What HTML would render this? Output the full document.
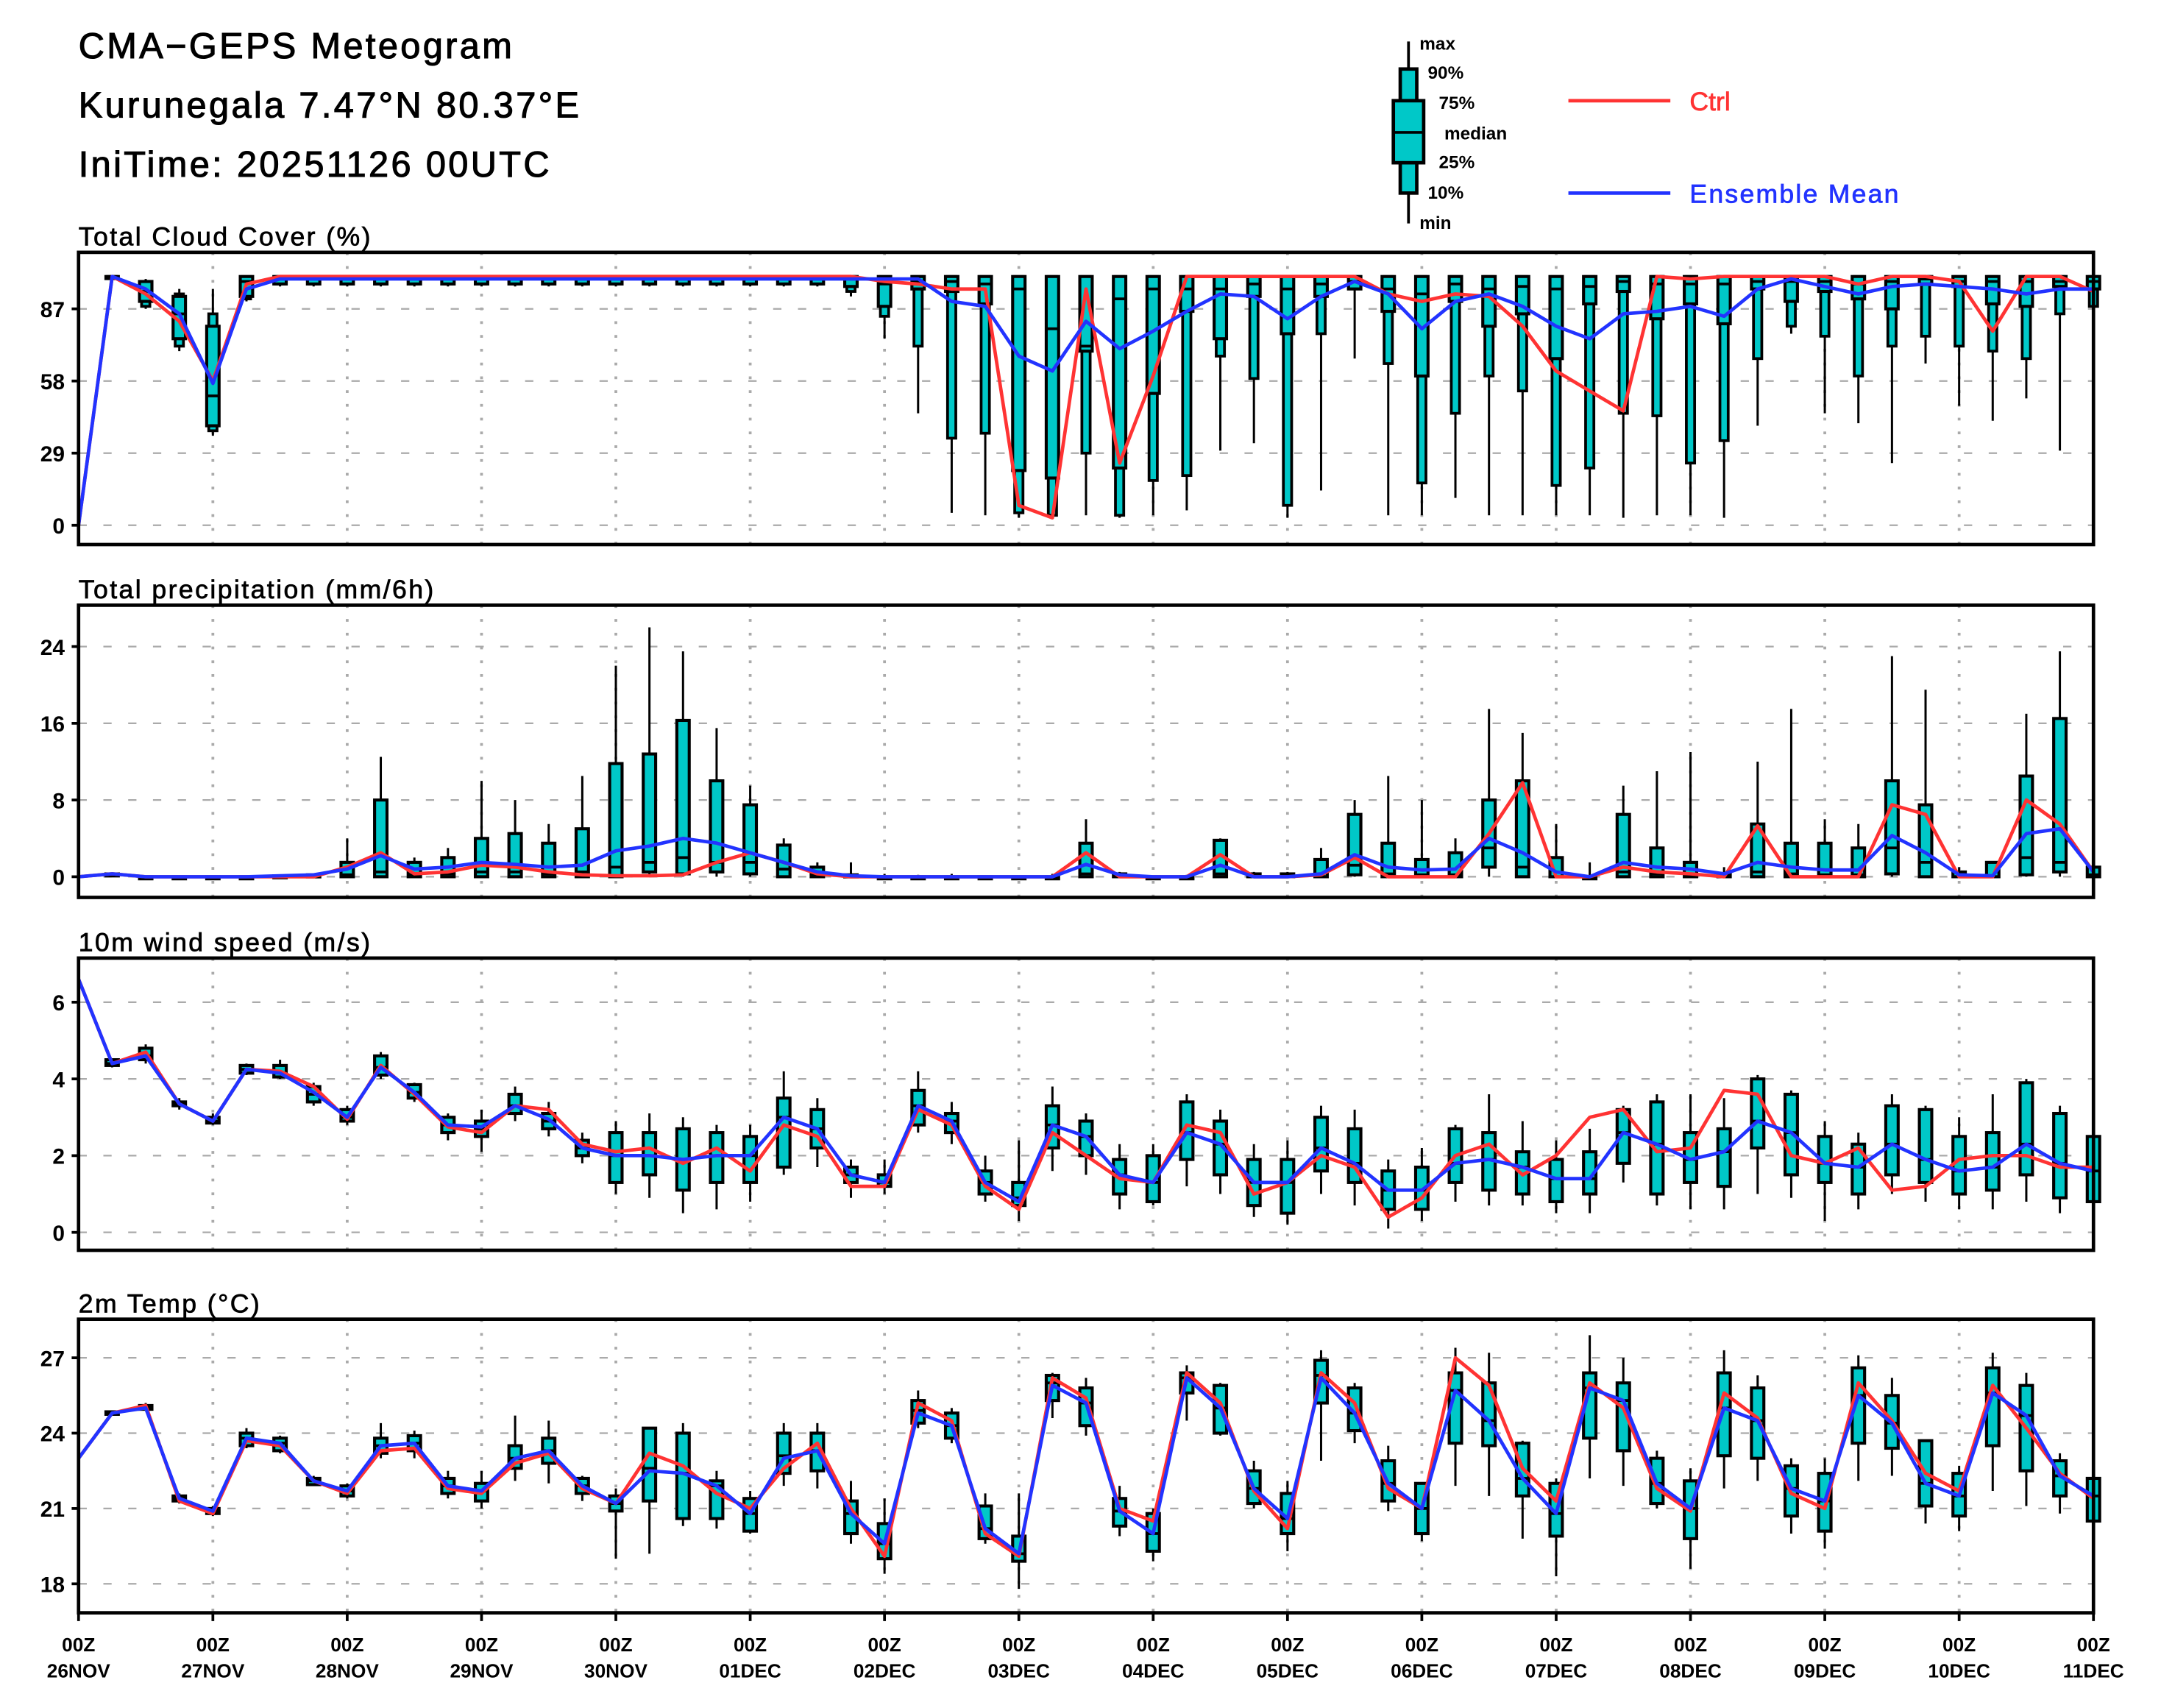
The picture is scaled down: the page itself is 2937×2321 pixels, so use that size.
<!DOCTYPE html>
<html><head><meta charset="utf-8"><style>
html,body{margin:0;padding:0;background:#fff;}
svg{display:block;}
text{font-family:"Liberation Sans",sans-serif;fill:#000;}
</style></head><body>
<svg id="chart" xmlns="http://www.w3.org/2000/svg" width="2937" height="2321" viewBox="0 0 1568 1239">
<rect x="0" y="0" width="1568" height="1239" fill="#fff"/>
<g font-size="26" letter-spacing="1.8" stroke="#000" stroke-width="0.6">
<text x="57" y="42">CMA−GEPS Meteogram</text>
<text x="57" y="85">Kurunegala 7.47°N 80.37°E</text>
<text x="57" y="128">IniTime: 20251126 00UTC</text>
</g>
<g>
<line x1="1022" y1="30" x2="1022" y2="162" stroke="#000" stroke-width="2"/>
<rect x="1016" y="50" width="12" height="90" fill="#00c8c8" stroke="#000" stroke-width="2.5"/>
<rect x="1011" y="73" width="22" height="45" fill="#00c8c8" stroke="#000" stroke-width="2.5"/>
<line x1="1011" y1="96" x2="1033" y2="96" stroke="#000" stroke-width="2"/>
<g font-size="13" font-weight="bold">
<text x="1030" y="36">max</text><text x="1036" y="57">90%</text><text x="1044" y="79">75%</text>
<text x="1048" y="101">median</text><text x="1044" y="122">25%</text><text x="1036" y="144">10%</text><text x="1030" y="166">min</text>
</g>
<line x1="1138" y1="73" x2="1212" y2="73" stroke="#ff3333" stroke-width="2.5"/>
<text x="1226" y="80" font-size="19" stroke="#ff3333" stroke-width="0.4" style="fill:#ff3333">Ctrl</text>
<line x1="1138" y1="140" x2="1212" y2="140" stroke="#2233ff" stroke-width="2.5"/>
<text x="1226" y="147" font-size="19" letter-spacing="1.2" stroke="#2233ff" stroke-width="0.4" style="fill:#2233ff">Ensemble Mean</text>
</g>
<g id="plots"></g>
</svg>
<script>
// ---- Cloud cover (%) ----
const cloudMean=[0,100,95,85,57,95,99,99,99,99,99,99,99,99,99,99,99,99,99,99,99,99,99,99,99,99,90,88,68,62,82,71,78,86,93,92,83,92,98,93,79,90,93,88,80,75,85,86,88,84,95,99,96,93,96,97,96,95,93,95,95];
const cloudCtrl=[0,100,93,82,58,97,100,100,100,100,100,100,100,100,100,100,100,100,100,100,100,100,100,100,98,97,95,95,8,3,95,25,60,100,100,100,100,100,100,93,90,93,92,80,62,54,46,100,99,100,100,100,100,97,100,100,98,78,100,100,94];
const cloudMin=[0,100,87,70,36,90,96,96,96,96,96,96,96,96,96,96,96,96,96,96,96,96,96,92,75,45,5,4,3,3,4,3,4,6,30,33,3,14,67,4,4,11,4,4,4,4,3,4,4,3,40,77,45,41,25,65,48,42,51,30,64];
const cloudP10=[0,100,88,72,38,91,97,97,97,97,97,97,97,97,97,97,97,97,97,97,97,97,97,94,84,72,35,37,5,4,29,4,18,20,68,59,8,77,95,65,17,45,60,54,16,23,45,44,25,34,67,80,76,60,72,76,72,70,67,85,88];
const cloudQ1=[0,100,90,75,40,92,97,97,97,97,97,97,97,97,97,97,97,97,97,97,97,97,97,96,88,95,94,89,22,19,70,23,53,86,75,92,77,92,95,86,60,90,80,85,67,89,94,83,89,81,95,90,94,91,87,97,96,89,88,96,95];
const cloudMed=[0,100,94,85,52,98,99,99,99,99,99,99,99,99,99,99,99,99,99,99,99,99,99,99,97,98,98,97,95,79,72,91,95,95,95,97,95,97,98,95,93,97,95,96,95,96,98,97,97,97,98,98,98,97,98,99,98,98,98,98,98];
const cloudQ3=[0,100,98,92,80,100,100,100,100,100,100,100,100,100,100,100,100,100,100,100,100,100,100,100,100,100,100,100,100,100,100,100,100,100,100,100,100,100,100,100,100,100,100,100,100,100,100,100,100,100,100,100,100,100,100,100,100,100,100,100,100];
const cloudP90=[0,100,98,93,85,100,100,100,100,100,100,100,100,100,100,100,100,100,100,100,100,100,100,100,100,100,100,100,100,100,100,100,100,100,100,100,100,100,100,100,100,100,100,100,100,100,100,100,100,100,100,100,100,100,100,100,100,100,100,100,100];
const cloudMax=[0,100,99,95,95,100,100,100,100,100,100,100,100,100,100,100,100,100,100,100,100,100,100,100,100,100,100,100,100,100,100,100,100,100,100,100,100,100,100,100,100,100,100,100,100,100,100,100,100,100,100,100,100,100,100,100,100,100,100,100,100];
const cloudTicks=[0,29,58,87];
// ---- Precipitation (mm/6h) ----
const prMean=[0,0.3,0,0,0,0,0.1,0.2,0.8,2.2,0.8,1.0,1.5,1.3,1.0,1.2,2.7,3.2,4.0,3.5,2.5,1.5,0.5,0.1,0,0,0,0,0,0,1.3,0.2,0,0,1.2,0,0,0.3,2.3,1.0,0.7,0.8,4.0,2.5,0.5,0,1.5,1.0,0.8,0.3,1.5,1.0,0.7,0.7,4.3,2.5,0.2,0.1,4.5,5.0,0.5];
const prCtrl=[0,0.3,0,0,0,0,0,0,1.0,2.5,0.3,0.5,1.2,1.0,0.5,0.2,0.1,0.1,0.2,1.5,2.5,1.5,0.3,0,0,0,0,0,0,0,2.5,0,0,0,2.3,0,0,0.2,2.0,0,0,0,4.5,9.8,0,0,1.0,0.5,0.3,0,5.3,0,0,0,7.5,6.5,0,0,8.0,5.5,0.5];
const prMin=[0,0.3,0,0,0,0,0,0,0,0,0,0,0,0,0,0,0,0,0,0,0,0,0,0,0,0,0,0,0,0,0,0,0,0,0,0,0,0,0,0,0,0,0,0,0,0,0,0,0,0,0,0,0,0,0,0,0,0,0,0,0];
const prQ1=[0,0.3,0,0,0,0,0,0,0,0,0,0,0,0,0,0,0,0.5,0.3,0.5,0.3,0,0,0,0,0,0,0,0,0,0,0,0,0,0,0,0,0,0.2,0,0,0,1.0,0,0,0,0,0,0,0,0,0,0,0,0.3,0,0,0,0.2,0.5,0];
const prMed=[0,0.3,0,0,0,0,0,0,0.2,0.5,0.2,0.3,0.5,0.5,0.3,0.5,1.0,1.5,2.0,1.5,1.5,0.8,0.2,0,0,0,0,0,0,0,0.3,0,0,0,0.3,0,0,0,1.2,0.3,0.2,0.2,3.0,1.0,0,0,0.5,0.3,0.2,0,0.5,0.3,0.2,0.2,3.0,1.5,0,0,2.0,1.5,0.2];
const prQ3=[0,0.3,0,0,0,0,0.1,0.2,1.5,8,1.5,2,4,4.5,3.5,5,11.8,12.8,16.3,10,7.5,3.3,1,0.2,0,0,0,0,0,0,3.5,0.3,0,0,3.8,0.3,0.3,1.8,6.5,3.5,1.8,2.5,8,10,2,0,6.5,3,1.5,0.3,5.5,3.5,3.5,3,10,7.5,0.5,1.5,10.5,16.5,1];
const prMax=[0,0.3,0,0,0,0,0.2,0.3,4,12.5,2,3,10,8,5.5,10.5,22,26,23.5,15.5,9.5,4,1.5,1.5,0.3,0.2,0.3,0,0,0.3,6,0.5,0,0.2,4,0.5,0.5,3,8,10.5,8,4,17.5,15,5.5,1.5,9.5,11,13,1,12,17.5,6,5.5,23,19.5,1,1.5,17,23.5,1.5];
const prTicks=[0,8,16,24];
// ---- 10m wind speed (m/s) ----
const wsMean=[6.6,4.4,4.6,3.35,2.9,4.25,4.15,3.65,3.0,4.3,3.65,2.8,2.75,3.3,2.95,2.2,2.0,2.0,1.9,2.0,2.0,3.0,2.7,1.5,1.3,3.3,2.9,1.3,0.8,2.8,2.5,1.5,1.3,2.6,2.3,1.3,1.3,2.2,1.8,1.1,1.1,1.8,1.9,1.7,1.4,1.4,2.6,2.3,1.9,2.1,2.9,2.6,1.8,1.7,2.3,1.9,1.6,1.7,2.3,1.8,1.6];
const wsCtrl=[6.6,4.4,4.7,3.35,2.9,4.25,4.2,3.8,2.95,4.35,3.6,2.75,2.6,3.3,3.2,2.3,2.1,2.2,1.8,2.2,1.6,2.8,2.5,1.2,1.2,3.2,2.8,1.2,0.6,2.6,2.0,1.4,1.3,2.8,2.6,1.0,1.3,2.0,1.7,0.4,0.9,2.0,2.3,1.5,2.0,3.0,3.2,2.1,2.2,3.7,3.6,2.0,1.8,2.2,1.1,1.2,1.9,2.0,2.0,1.7,1.7];
const wsMin=[6.6,4.3,4.4,3.2,2.8,4.1,4.0,3.3,2.8,4.0,3.4,2.4,2.1,2.9,2.5,1.8,1.0,0.9,0.5,0.6,0.8,1.5,1.7,0.9,1.0,2.6,2.3,0.8,0.3,1.6,1.5,0.6,0.7,1.2,1.0,0.4,0.2,1.0,0.7,0.1,0.3,0.8,0.7,0.7,0.5,0.5,1.3,0.7,0.6,0.6,1.0,0.9,0.3,0.6,1.0,0.8,0.6,0.6,0.8,0.5,0.5];
const wsQ1=[6.6,4.35,4.5,3.3,2.85,4.15,4.05,3.4,2.9,4.1,3.5,2.6,2.5,3.1,2.7,2.0,1.3,1.5,1.1,1.3,1.3,1.7,2.2,1.3,1.2,2.8,2.6,1.0,0.7,2.2,2.0,1.0,0.8,1.9,1.5,0.7,0.5,1.6,1.3,0.6,0.6,1.3,1.1,1.0,0.8,1.0,1.8,1.0,1.3,1.2,2.2,1.5,1.3,1.0,1.5,1.3,1.0,1.1,1.5,0.9,0.8];
const wsMed=[6.6,4.4,4.6,3.35,2.9,4.25,4.15,3.6,3.0,4.3,3.65,2.8,2.7,3.3,2.9,2.2,2.0,2.0,1.9,2.0,2.0,3.0,2.7,1.5,1.3,3.3,2.9,1.3,0.9,2.8,2.5,1.5,1.3,2.6,2.3,1.3,1.3,2.2,1.8,1.1,1.1,1.8,1.9,1.7,1.4,1.4,2.6,2.3,1.9,2.1,2.9,2.6,1.8,1.7,2.3,1.9,1.6,1.7,2.3,1.8,1.6];
const wsQ3=[6.6,4.5,4.8,3.4,3.0,4.35,4.35,3.8,3.2,4.6,3.85,3.0,2.9,3.6,3.1,2.4,2.6,2.6,2.7,2.6,2.5,3.5,3.2,1.7,1.5,3.7,3.1,1.6,1.3,3.3,2.9,1.9,2.0,3.4,2.9,1.9,1.9,3.0,2.7,1.6,1.7,2.7,2.6,2.1,1.9,2.1,3.2,3.4,2.6,2.7,4.0,3.6,2.5,2.3,3.3,3.2,2.5,2.6,3.9,3.1,2.5];
const wsMax=[6.6,4.5,4.9,3.5,3.1,4.4,4.5,3.9,3.3,4.7,3.9,3.1,3.2,3.8,3.4,2.6,2.9,3.1,3.0,2.8,2.8,4.2,3.5,1.9,1.9,4.2,3.4,2.0,2.4,3.8,3.1,2.3,2.3,3.6,3.2,2.3,2.4,3.3,3.2,1.9,2.2,2.8,3.6,2.9,2.4,2.7,3.3,3.6,3.6,3.5,4.1,3.7,2.9,2.6,3.6,3.3,3.0,3.6,4.0,3.3,2.7];
const wsTicks=[0,2,4,6];
// ---- 2m temperature (°C) ----
const tMean=[23.0,24.8,25.0,21.4,20.9,23.8,23.6,22.1,21.7,23.5,23.6,21.9,21.7,23.0,23.3,21.9,21.2,22.5,22.4,21.9,20.8,23.0,23.3,20.8,19.6,24.8,24.3,20.2,19.2,25.9,25.2,20.9,20.0,26.2,25.0,21.8,20.6,26.2,24.8,22.0,21.0,25.7,24.5,22.2,20.8,25.8,25.3,22.0,21.0,25.0,24.5,21.8,21.3,25.5,24.4,22.0,21.5,25.6,24.7,22.3,21.5];
const tCtrl=[23.0,24.8,25.1,21.3,20.8,23.7,23.5,22.1,21.6,23.3,23.4,21.8,21.6,22.8,23.2,21.8,21.2,23.2,22.7,21.6,21.0,22.6,23.6,21.0,19.1,25.2,24.5,20.0,19.1,26.2,25.4,21.0,20.5,26.4,25.2,21.7,20.2,26.4,25.2,21.8,21.0,27.0,25.9,22.6,21.3,26.0,25.0,21.8,20.9,25.6,24.6,21.6,21.0,26.0,24.5,22.4,21.7,25.9,24.2,22.4,21.4];
const tMin=[23.0,24.7,24.9,21.2,20.7,23.4,23.2,21.9,21.4,23.0,23.0,21.4,21.0,22.1,22.0,21.3,19.0,19.2,20.3,20.2,20.0,21.9,21.8,19.6,18.4,24.2,23.6,19.6,17.8,24.6,23.9,19.9,18.9,24.5,23.9,21.0,19.3,22.9,23.6,20.9,19.7,21.9,21.5,19.8,18.3,22.2,21.9,21.0,18.6,21.8,22.1,20.0,19.4,22.1,22.3,20.4,20.1,21.7,21.1,20.8,20.1];
const tQ1=[23.0,24.75,24.95,21.3,20.8,23.5,23.3,21.95,21.5,23.2,23.3,21.6,21.3,22.6,22.8,21.6,20.9,21.3,20.6,20.6,20.1,22.4,22.5,20.0,19.0,24.4,23.8,19.8,18.9,25.3,24.3,20.3,19.3,25.6,24.0,21.2,20.0,25.2,24.1,21.3,20.0,23.6,23.5,21.5,19.9,23.8,23.3,21.2,19.8,23.1,23.0,20.7,20.1,23.6,23.4,21.1,20.7,23.5,22.5,21.5,20.5];
const tMed=[23.0,24.8,25.0,21.4,20.9,23.8,23.6,22.1,21.7,23.5,23.6,21.9,21.7,23.0,23.3,21.9,21.2,22.6,22.4,21.9,20.8,23.1,23.3,20.8,19.6,24.9,24.3,20.2,19.2,26.0,25.2,20.9,20.0,26.2,25.0,21.8,20.6,26.3,24.8,22.0,21.0,25.7,24.5,22.2,20.8,25.8,25.3,22.0,21.0,25.0,24.5,21.8,21.3,25.5,24.4,22.0,21.5,25.6,24.7,22.3,21.5];
const tQ3=[23.0,24.85,25.1,21.5,21.0,24.0,23.8,22.2,21.9,23.8,23.9,22.2,22.0,23.5,23.8,22.2,21.5,24.2,24.0,22.1,21.4,24.0,24.0,21.3,20.4,25.3,24.8,21.1,19.9,26.3,25.8,21.4,20.8,26.4,25.9,22.5,21.6,26.9,25.8,22.9,22.0,26.4,26.0,23.6,22.0,26.4,26.0,23.0,22.1,26.4,25.8,22.7,22.4,26.6,25.5,23.7,22.4,26.6,25.9,22.9,22.2];
const tMax=[23.0,24.8,25.2,21.6,21.1,24.2,23.9,22.3,22.0,24.4,24.1,22.5,22.5,24.7,24.5,22.3,21.8,24.1,24.4,22.5,21.7,24.4,24.4,22.1,21.4,25.7,25.0,21.6,21.6,26.4,26.2,21.9,21.0,26.7,26.0,22.9,22.1,27.3,26.0,23.5,21.9,27.4,27.2,23.7,22.2,27.9,27.0,23.3,22.6,27.3,26.3,23.0,23.0,27.1,26.2,23.4,22.7,27.2,26.4,23.2,22.4];
const tTicks=[18,21,24,27];
const dayLabels=["26NOV","27NOV","28NOV","29NOV","30NOV","01DEC","02DEC","03DEC","04DEC","05DEC","06DEC","07DEC","08DEC","09DEC","10DEC","11DEC"];

const NS='http://www.w3.org/2000/svg';
const X0=57, X1=1519, NSTEP=60;
function xPos(i){return X0+(X1-X0)*i/NSTEP;}
function mk(tag,attrs,parent){const e=document.createElementNS(NS,tag);for(const k in attrs)e.setAttribute(k,attrs[k]);parent.appendChild(e);return e;}
const plots=document.getElementById('plots');

function panel(key,title,top,bot,v0,y0,v1,y1,ticks,mn,p10,q1,md,q3,p90,mx,ctrl,mean){
  const g=mk('g',{},plots);
  
  
  const ys=v=>{let y=y0+(v-v0)*(y1-y0)/(v1-v0);return Math.max(top+1,Math.min(bot-1,y));};
  const t=mk('text',{x:57,y:top-5,'font-size':19,'letter-spacing':'1.3',stroke:'#000','stroke-width':0.4},g);
  
  
  t.textContent=title;
  for(let d=1;d<15;d++){const l=mk('line',{x1:xPos(d*4),x2:xPos(d*4),y1:top,y2:bot,stroke:'#aaa','stroke-width':2,'stroke-dasharray':'2 8'},g);
    
    }
  ticks.forEach(v=>{
    const y=ys(v);
    const gl=mk('line',{x1:X0,x2:X1,y1:y,y2:y,stroke:'#aaa','stroke-width':1.2,'stroke-dasharray':'6 12'},g);
    
    
    mk('line',{x1:X0-5,x2:X0,y1:y,y2:y,stroke:'#000','stroke-width':2},g);
    const tl=mk('text',{x:X0-10,y:y+6,'font-size':16,'font-weight':'bold','text-anchor':'end'},g);
    
    
    tl.textContent=v;
  });
  for(let i=1;i<=NSTEP;i++){
    const x=xPos(i);
    const bg=mk('g',{},g);
    
    
    const hi=Math.max(mx[i],q3[i]), lo=Math.min(mn[i],q1[i]);
    mk('line',{x1:x,x2:x,y1:ys(hi),y2:ys(lo),stroke:'#000','stroke-width':1.6},bg);
    if(p10&&p90){
      const pa=ys(p90[i]), pb=ys(p10[i]);
      mk('rect',{x:x-3,y:pa,width:6,height:Math.max(1.5,pb-pa),fill:'#00c8c8',stroke:'#000','stroke-width':2},bg);
    }
    const ya=ys(q3[i]), yb=ys(q1[i]);
    mk('rect',{x:x-4.5,y:ya,width:9,height:Math.max(1.5,yb-ya),fill:'#00c8c8',stroke:'#000','stroke-width':2.2},bg);
    const ym=ys(md[i]);
    mk('line',{x1:x-4.5,x2:x+4.5,y1:ym,y2:ym,stroke:'#000','stroke-width':2},bg);
  }
  const pr=arr=>arr.map((v,i)=>xPos(i).toFixed(1)+','+ys(v).toFixed(1)).join(' ');
  const rl=mk('polyline',{points:pr(ctrl),fill:'none',stroke:'#ff3333','stroke-width':2.5,'stroke-linejoin':'round'},g);
  
  
  const bl=mk('polyline',{points:pr(mean),fill:'none',stroke:'#2233ff','stroke-width':2.5,'stroke-linejoin':'round'},g);
  
  
  const fr=mk('rect',{x:X0,y:top,width:X1-X0,height:bot-top,fill:'none',stroke:'#000','stroke-width':2.5},g);
  
  
}
panel('cloud','Total Cloud Cover (%)',183,395,0,381,87,224,cloudTicks,cloudMin,cloudP10,cloudQ1,cloudMed,cloudQ3,cloudP90,cloudMax,cloudCtrl,cloudMean);
panel('precip','Total precipitation (mm/6h)',439,651,0,636,24,469,prTicks,prMin,null,prQ1,prMed,prQ3,null,prMax,prCtrl,prMean);
panel('wind','10m wind speed (m/s)',695,907,0,894,6,727,wsTicks,wsMin,null,wsQ1,wsMed,wsQ3,null,wsMax,wsCtrl,wsMean);
panel('temp','2m Temp (°C)',957,1170,18,1149,27,985,tTicks,tMin,null,tQ1,tMed,tQ3,null,tMax,tCtrl,tMean);

const xg=mk('g',{'font-size':14,'font-weight':'bold','text-anchor':'middle'},plots);


dayLabels.forEach((d,k)=>{
  const x=xPos(k*4);
  mk('line',{x1:x,x2:x,y1:1170,y2:1176,stroke:'#000','stroke-width':2},xg);
  const a=mk('text',{x:x,y:1198},xg);
  
  
  a.textContent='00Z';
  const b=mk('text',{x:x,y:1217},xg);
  
  
  b.textContent=d;
});
</script>
</body></html>
